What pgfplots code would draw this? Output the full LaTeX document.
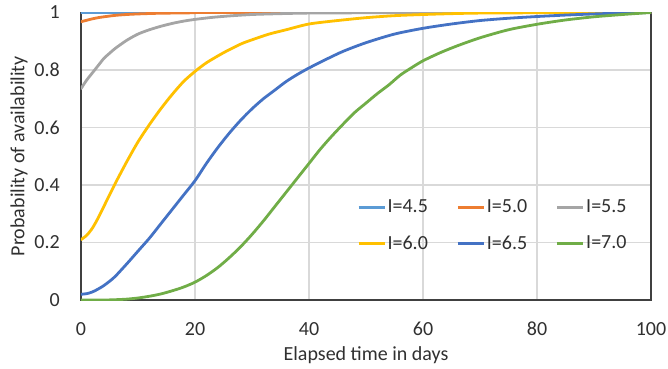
\documentclass[border=0pt]{standalone}
\usepackage{pgfplots}
\pgfplotsset{compat=1.18}
\usepackage{fontspec}
\setmainfont{Carlito}
\definecolor{c1}{HTML}{5B9BD5}
\definecolor{c2}{HTML}{ED7D31}
\definecolor{c3}{HTML}{A5A5A5}
\definecolor{c4}{HTML}{FFC000}
\definecolor{c5}{HTML}{4472C4}
\definecolor{c6}{HTML}{70AD47}
\definecolor{txt}{HTML}{303030}
\definecolor{gridc}{HTML}{D9D9D9}
\begin{document}
\fontsize{20bp}{24bp}\selectfont
\begin{tikzpicture}
\begin{axis}[
  scale only axis,
  width=570bp, height=287.5bp,
  xmin=0, xmax=100, ymin=0, ymax=1,
  xtick={0,20,40,60,80,100},
  ytick={0,0.2,0.4,0.6,0.8,1},
  yticklabels={0,0.2,0.4,0.6,0.8,1},
  major tick length=0pt,
  grid=major,
  major grid style={draw=gridc, line width=1.2bp},
  axis line style={black!75, line width=1.8bp},
  /pgf/number format/assume math mode=true,
  tick label style={font=\fontsize{20bp}{24bp}\selectfont, text=txt},
  xticklabel style={anchor=base, inner sep=0pt, yshift=-35bp},
  yticklabel style={anchor=east, inner sep=0pt, xshift=-21bp},
  xlabel={Elapsed time in days},
  ylabel={Probability of availability},
  label style={font=\fontsize{20bp}{24bp}\selectfont, text=txt},
  xlabel style={at={(axis description cs:0.5,-0.211)}, anchor=base},
  ylabel style={at={(axis description cs:-0.1088,0.5)}, anchor=center, rotate=0},
  every axis plot/.append style={line width=2.8bp, line join=round, line cap=round, smooth, tension=0.45},
  legend columns=3,
  legend cell align=left,
  legend image code/.code={\draw[#1, line width=3bp, line cap=butt, sharp plot] (0bp,0.5bp) -- (26bp,0.5bp);},
  legend style={draw=none, fill=none, inner sep=0pt,
    at={(axis cs:48.4,0.2575)}, anchor=west,
    font=\fontsize{20bp}{24bp}\selectfont, text=txt,
    column sep=0bp, row sep=17bp,
    nodes={inner sep=1.5bp, anchor=west}},
  legend entries={I=4.5,I=5.0,I=5.5,I=6.0,I=6.5,I=7.0},
  /tikz/every even column/.append style={column sep=27bp},
]
\addplot[c1] coordinates {(0,1) (100,1)};
\addplot[c2] coordinates {(0,0.968) (1,0.973) (2,0.978) (3,0.982) (4,0.985) (6,0.99) (8,0.993) (10,0.995) (13,0.997) (16,0.998) (20,0.999) (25,1) (100,1)};
\addplot[c3] coordinates {(0,0.735) (1,0.765) (2,0.79) (3,0.815) (4,0.84) (5,0.858) (6,0.875) (8,0.903) (10,0.925) (12,0.94) (14,0.952) (16,0.962) (18,0.97) (20,0.976) (23,0.983) (26,0.988) (30,0.993) (35,0.996) (40,0.998) (50,0.999) (60,1) (100,1)};
\addplot[c4] coordinates {(0,0.21) (1,0.225) (2,0.25) (3,0.285) (4,0.325) (6,0.405) (8,0.48) (10,0.55) (12,0.61) (14,0.665) (16,0.715) (18,0.76) (20,0.795) (22,0.825) (25,0.86) (28,0.89) (30,0.905) (33,0.925) (36,0.94) (40,0.96) (45,0.972) (50,0.982) (55,0.989) (60,0.993) (65,0.996) (70,0.998) (80,0.999) (90,1) (100,1)};
\addplot[c5] coordinates {(0,0.02) (1,0.022) (2,0.028) (3,0.038) (4,0.05) (5,0.065) (6,0.082) (8,0.125) (10,0.17) (12,0.215) (14,0.265) (16,0.315) (18,0.365) (20,0.415) (22,0.475) (24,0.53) (26,0.58) (28,0.625) (30,0.665) (32,0.70) (34,0.73) (36,0.76) (38,0.785) (40,0.807) (43,0.837) (46,0.865) (50,0.895) (55,0.925) (60,0.945) (65,0.96) (70,0.972) (75,0.98) (80,0.986) (85,0.991) (90,0.995) (95,0.998) (100,1)};
\addplot[c6] coordinates {(0,0) (4,0) (6,0.001) (8,0.003) (10,0.007) (12,0.013) (14,0.021) (16,0.032) (18,0.045) (20,0.062) (22,0.085) (24,0.113) (26,0.147) (28,0.185) (30,0.228) (32,0.275) (34,0.325) (36,0.375) (38,0.425) (40,0.475) (42,0.525) (44,0.57) (46,0.612) (48,0.652) (50,0.685) (52,0.718) (54,0.748) (56,0.782) (58,0.808) (60,0.832) (63,0.86) (66,0.884) (70,0.912) (75,0.94) (80,0.959) (85,0.974) (90,0.985) (95,0.993) (100,1)};
\end{axis}
\pgfresetboundingbox
\path (current axis.south west) ++(-81bp,-69bp) coordinate (bl);
\path (current axis.north east) ++(17bp,12.5bp) coordinate (tr);
\useasboundingbox (bl) rectangle (tr);
\end{tikzpicture}
\end{document}
